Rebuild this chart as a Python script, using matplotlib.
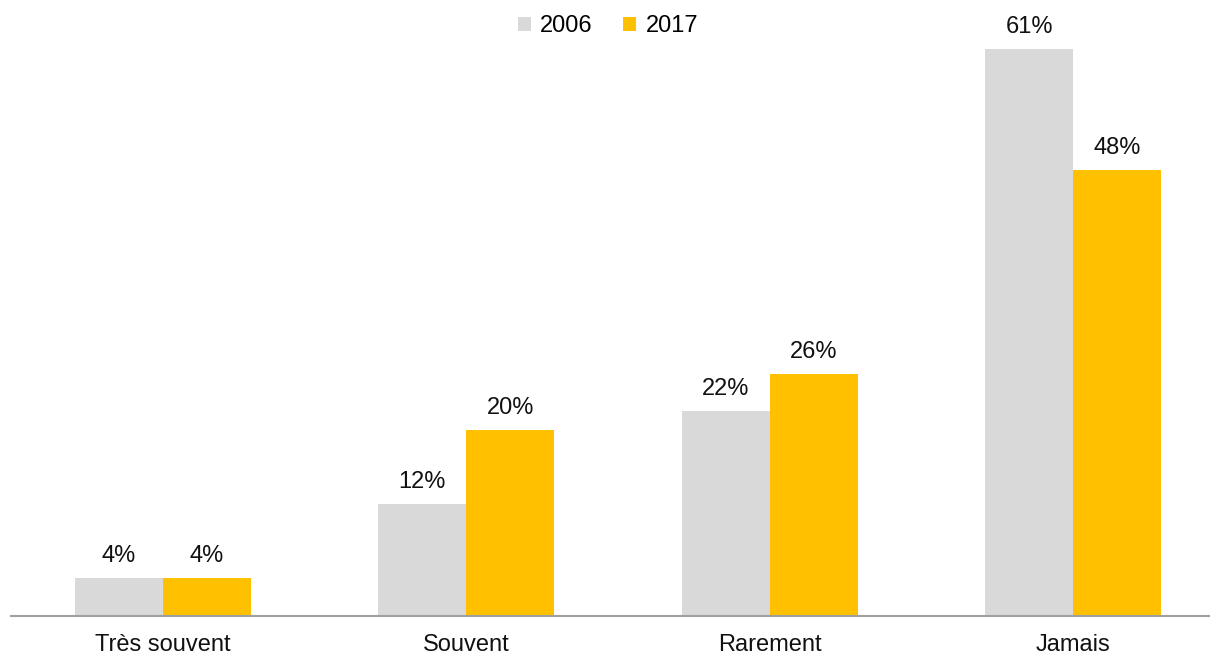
import numpy as np
import matplotlib
matplotlib.use("Agg")
import matplotlib.pyplot as plt

plt.rcParams["font.family"] = ["Liberation Sans", "DejaVu Sans"]

# --- Data ---
categories = ["Très souvent", "Souvent", "Rarement", "Jamais"]
vals_2006 = [4, 12, 22, 61]
vals_2017 = [4, 20, 26, 48]
series_names = ["2006", "2017"]
colors = ["#D9D9D9", "#FFC000"]

# --- Figure ---
W, H = 1210, 659
fig = plt.figure(figsize=(W / 100, H / 100), dpi=100)
# axes placed in pixel terms: x from 11 to 1225 (clipped by figure), baseline at y=615.5
ax_left, ax_right = 11, 1225
ax_bottom = H - 615.5
ymax = 66
px_per_unit = 9.29
ax = fig.add_axes([ax_left / W, ax_bottom / H, (ax_right - ax_left) / W, ymax * px_per_unit / H])

fs = 17
x = np.arange(len(categories))
width = 0.29
bars = []
for i, (vals, name, c) in enumerate(zip([vals_2006, vals_2017], series_names, colors)):
    offs = (i - 0.5) * width
    b = ax.bar(x + offs, vals, width, color=c, label=name)
    bars.append(b)
    for xi, v in zip(x + offs, vals):
        ax.annotate(f"{v}%", (xi, v), xytext=(0, 11.5), textcoords="offset points",
                    ha="center", va="baseline", fontsize=fs, color="#111111")

ax.set_xlim(-0.5, 3.5)
ax.set_ylim(0, ymax)
ax.set_xticks(x)
ax.set_xticklabels(categories, fontsize=fs, color="#111111")
ax.tick_params(axis="x", length=0, pad=13)
ax.set_yticks([])
for s in ["top", "right", "left"]:
    ax.spines[s].set_visible(False)
ax.spines["bottom"].set_color("#A0A0A0")
ax.spines["bottom"].set_linewidth(1.5)

fig.legend(handles=bars, labels=series_names, loc="center", bbox_to_anchor=(608 / W, 1 - 26 / H),
           ncol=2, frameon=False, fontsize=fs, handlelength=0.55, handleheight=0.55,
           handletextpad=0.4, columnspacing=1.3, borderpad=0)

fig.savefig("out.png", dpi=100)
